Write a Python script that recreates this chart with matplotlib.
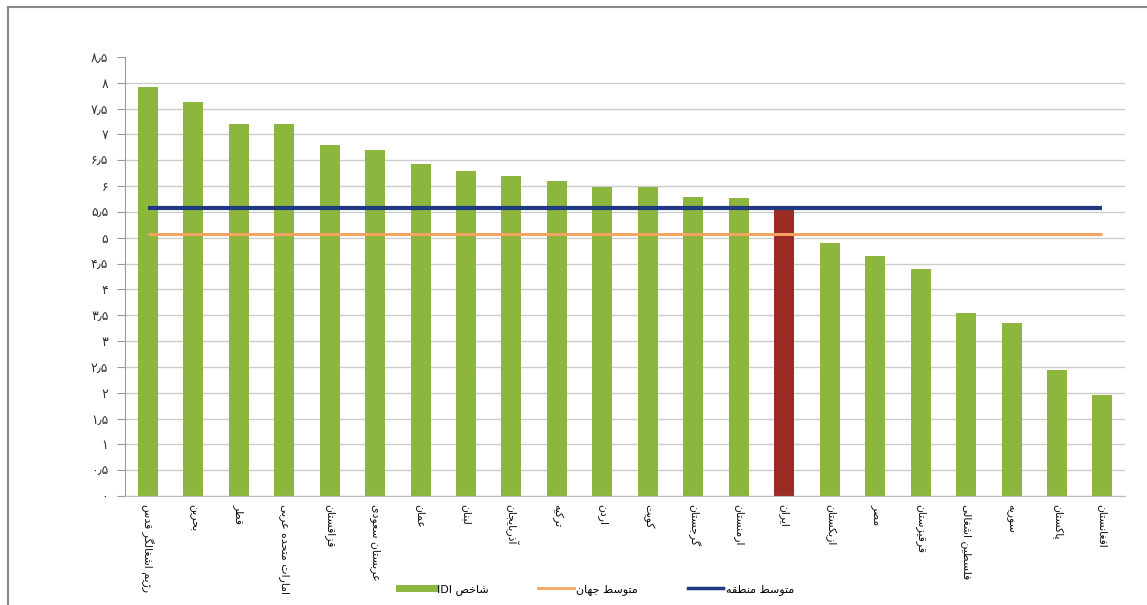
import matplotlib
matplotlib.use('Agg')
import matplotlib.pyplot as plt
from matplotlib.lines import Line2D
import numpy as np

countries = ["رژیم اشغالگر قدس", "بحرین", "قطر", "امارات متحده عربی", "قزاقستان",
             "عربستان سعودی", "عمان", "لبنان", "آذربایجان", "ترکیه", "اردن", "کویت",
             "گرجستان", "ارمنستان", "ایران", "ازبکستان", "مصر", "قرقیزستان",
             "فلسطین اشغالی", "سوریه", "پاکستان", "افغانستان"]
idi = [7.91, 7.62, 7.21, 7.21, 6.80, 6.69, 6.43, 6.30, 6.20, 6.09, 5.99, 5.99,
       5.79, 5.76, 5.56, 4.90, 4.65, 4.40, 3.55, 3.35, 2.44, 1.96]
highlight = "ایران"
world_avg = 5.08
region_avg = 5.58
yticks = np.arange(0, 8.51, 0.5)

# presentation forms: isolated, final, initial, medial (2 forms = joins only to the right)
FORMS = {
    'ا': '\uFE8D\uFE8E', 'آ': '\uFE81\uFE82', 'ب': '\uFE8F\uFE90\uFE91\uFE92',
    'پ': '\uFB56\uFB57\uFB58\uFB59', 'ت': '\uFE95\uFE96\uFE97\uFE98',
    'ث': '\uFE99\uFE9A\uFE9B\uFE9C', 'ج': '\uFE9D\uFE9E\uFE9F\uFEA0',
    'چ': '\uFB7A\uFB7B\uFB7C\uFB7D', 'ح': '\uFEA1\uFEA2\uFEA3\uFEA4',
    'خ': '\uFEA5\uFEA6\uFEA7\uFEA8', 'د': '\uFEA9\uFEAA', 'ذ': '\uFEAB\uFEAC',
    'ر': '\uFEAD\uFEAE', 'ز': '\uFEAF\uFEB0', 'ژ': '\uFB8A\uFB8B',
    'س': '\uFEB1\uFEB2\uFEB3\uFEB4', 'ش': '\uFEB5\uFEB6\uFEB7\uFEB8',
    'ص': '\uFEB9\uFEBA\uFEBB\uFEBC', 'ض': '\uFEBD\uFEBE\uFEBF\uFEC0',
    'ط': '\uFEC1\uFEC2\uFEC3\uFEC4', 'ظ': '\uFEC5\uFEC6\uFEC7\uFEC8',
    'ع': '\uFEC9\uFECA\uFECB\uFECC', 'غ': '\uFECD\uFECE\uFECF\uFED0',
    'ف': '\uFED1\uFED2\uFED3\uFED4', 'ق': '\uFED5\uFED6\uFED7\uFED8',
    'ک': '\uFB8E\uFB8F\uFB90\uFB91', 'گ': '\uFB92\uFB93\uFB94\uFB95',
    'ل': '\uFEDD\uFEDE\uFEDF\uFEE0', 'م': '\uFEE1\uFEE2\uFEE3\uFEE4',
    'ن': '\uFEE5\uFEE6\uFEE7\uFEE8', 'و': '\uFEED\uFEEE',
    'ه': '\uFEE9\uFEEA\uFEEB\uFEEC', 'ی': '\uFBFC\uFBFD\uFBFE\uFBFF',
}


def shape(text):
    out = []
    for i, ch in enumerate(text):
        if ch not in FORMS:
            out.append(ch)
            continue
        f = FORMS[ch]
        prev = text[i - 1] if i > 0 else None
        nxt = text[i + 1] if i + 1 < len(text) else None
        joins_prev = prev in FORMS and len(FORMS[prev]) == 4
        joins_next = len(f) == 4 and nxt in FORMS
        if joins_prev and joins_next:
            out.append(f[3])
        elif joins_prev:
            out.append(f[1])
        elif joins_next:
            out.append(f[2])
        else:
            out.append(f[0])
    return ''.join(out)[::-1]


fa_digits = str.maketrans('0123456789.', '۰۱۲۳۴۵۶۷۸۹٫')

green = '#8DB63F'
red = '#9B2B25'
navy = '#1F3A80'
orange = '#F4A460'

plt.rcParams['font.family'] = ['DejaVu Sans']

fig = plt.figure(figsize=(11.47, 6.05), dpi=100)
ax = fig.add_axes([0.109, 0.180, 0.872, 0.726])

x = np.arange(len(countries))
colors = [red if c == highlight else green for c in countries]
ax.bar(x, idi, width=0.44, color=colors, zorder=2)
ax.hlines(world_avg, x[0], x[-1], color=orange, lw=2.2, zorder=3)
ax.hlines(region_avg, x[0], x[-1], color=navy, lw=3, zorder=4)

ax.set_xlim(-0.5, len(countries) - 0.5)
ax.set_ylim(0, 8.5)
ax.set_yticks(yticks)
ax.set_yticklabels([f"{v:g}".translate(fa_digits) for v in yticks], fontsize=9, color='#333333')
ax.set_xticks(x)
ax.set_xticklabels([shape(c) for c in countries], rotation=270, fontsize=7.8,
                   va='top', ha='center', color='#111111')
ax.tick_params(axis='x', length=0, pad=6)
ax.tick_params(axis='y', length=6, direction='out', color='#999999', pad=6)

ax.yaxis.grid(True, color='#CCCCCC', lw=1, zorder=0)
ax.get_ygridlines()[-1].set_visible(False)
ax.set_axisbelow(True)
for s in ['top', 'right']:
    ax.spines[s].set_visible(False)
ax.spines['left'].set_color('#999999')
ax.spines['bottom'].set_color('#BBBBBB')

handles = [Line2D([0], [0], color=green, lw=5),
           Line2D([0], [0], color=orange, lw=2),
           Line2D([0], [0], color=navy, lw=2.5)]
labels = ["IDI " + shape("شاخص"), shape("متوسط جهان"), shape("متوسط منطقه")]
fig.legend(handles, labels, loc='center', bbox_to_anchor=(0.52, 0.025), ncol=3,
           frameon=False, fontsize=8, handlelength=3.2, handletextpad=0.2,
           columnspacing=4.5)

# outer frame of the picture
fig.add_artist(Line2D([0.007, 0.007], [0.0, 0.988], color='#888888', lw=1.5))
fig.add_artist(Line2D([0.007, 1.0], [0.988, 0.988], color='#888888', lw=1.5))

fig.savefig('out.png', dpi=100)
